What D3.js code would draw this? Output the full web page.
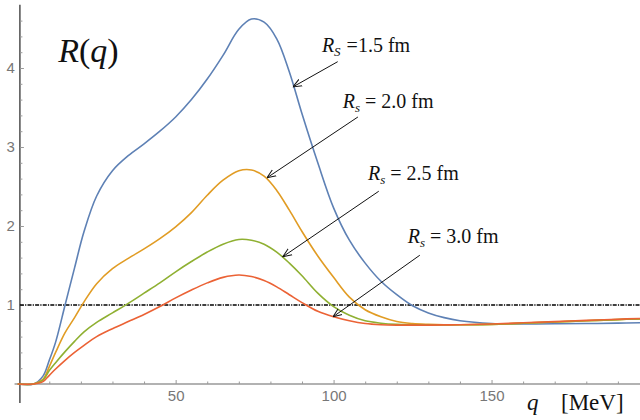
<!DOCTYPE html>
<html>
<head>
<meta charset="utf-8">
<script src="https://cdn.jsdelivr.net/npm/d3@7"></script>
<style>
  body { margin: 0; background: #fff; }
  svg { display: block; }
</style>
</head>
<body>
<div id="chart"></div>
<script>
// q grid (MeV) shared by all curves
var qGrid = [0, 5, 8, 10, 12, 15, 18, 21, 25, 30, 35, 40, 45, 50, 55, 60, 65, 70, 74, 78,
             82, 86, 90, 95, 100, 105, 110, 115, 120, 125, 130, 135, 140, 150, 160, 170, 180, 190, 197];

// R(q) for each source radius
var r15 = [0, 0, 0.1, 0.3, 0.53, 1.0, 1.47, 1.93, 2.38, 2.7, 2.89, 3.04, 3.2, 3.38, 3.6, 3.86, 4.16, 4.49, 4.62, 4.58,
           4.37, 3.95, 3.42, 2.8, 2.23, 1.82, 1.53, 1.3, 1.13, 0.99, 0.9, 0.84, 0.8, 0.765, 0.76, 0.762, 0.765, 0.77, 0.775];
var r20 = [0, 0, 0.06, 0.22, 0.4, 0.65, 0.84, 1.04, 1.27, 1.46, 1.59, 1.71, 1.84, 1.99, 2.17, 2.39, 2.58, 2.7, 2.71, 2.63,
           2.45, 2.2, 1.93, 1.62, 1.35, 1.1, 0.94, 0.85, 0.79, 0.765, 0.755, 0.75, 0.75, 0.755, 0.77, 0.785, 0.8, 0.815, 0.825];
var r25 = [0, 0, 0.05, 0.17, 0.27, 0.41, 0.54, 0.66, 0.78, 0.9, 1.02, 1.15, 1.28, 1.42, 1.55, 1.67, 1.77, 1.83, 1.82, 1.77,
           1.67, 1.53, 1.37, 1.15, 0.98, 0.87, 0.8, 0.77, 0.755, 0.75, 0.748, 0.748, 0.75, 0.755, 0.77, 0.785, 0.8, 0.815, 0.825];
var r30 = [0, 0, 0.03, 0.11, 0.19, 0.3, 0.4, 0.49, 0.6, 0.7, 0.79, 0.88, 0.98, 1.09, 1.19, 1.28, 1.35, 1.38, 1.36, 1.31,
           1.23, 1.13, 1.03, 0.92, 0.85, 0.8, 0.765, 0.75, 0.745, 0.745, 0.745, 0.748, 0.75, 0.76, 0.775, 0.79, 0.805, 0.82, 0.83];

var seriesNames = ["1.5", "2.0", "2.5", "3.0"];
var seriesSub = ["S", "s", "s", "s"];
var seriesValues = [r15, r20, r25, r30];
var colors = ["#5e81b5", "#e19c24", "#8fb032", "#eb6235"];

// annotation anchors in data units: label (q, R), arrow start, arrow end
var labelPos = [[96.3, 4.2], [102.9, 3.49], [110.9, 2.58], [123.5, 1.78]];
var arrowFrom = [[101.3, 4.08], [107.7, 3.38], [114.3, 2.44], [127.3, 1.63]];
var arrowTo = [[87.1, 3.76], [78.9, 2.61], [83.9, 1.61], [99.8, 0.85]];

var yMajor = [1, 2, 3, 4];
var xMajor = [50, 100, 150];

var width = 640, height = 420;

var x = d3.scaleLinear().domain([0, 197]).range([17.7, 640]);
var y = d3.scaleLinear().domain([0, 4.8]).range([384, 4.8]);
var axisQ = 0.7;

var svg = d3.select("#chart").append("svg")
  .attr("width", width)
  .attr("height", height);

var defs = svg.append("defs");
defs.append("marker")
  .attr("id", "arr")
  .attr("viewBox", "0 0 10 10")
  .attr("refX", 10).attr("refY", 5)
  .attr("markerWidth", 9).attr("markerHeight", 9)
  .attr("markerUnits", "userSpaceOnUse")
  .attr("orient", "auto")
  .append("path")
  .attr("d", "M0,1 L10,5 L0,9")
  .attr("fill", "none")
  .attr("stroke", "#111")
  .attr("stroke-width", 1.1);

// axes lines
svg.append("line")
  .attr("x1", x(-1)).attr("x2", width)
  .attr("y1", y(0)).attr("y2", y(0))
  .attr("stroke", "#999").attr("stroke-width", 1.3);
svg.append("line")
  .attr("x1", x(axisQ)).attr("x2", x(axisQ))
  .attr("y1", y(4.8)).attr("y2", y(-0.24))
  .attr("stroke", "#333").attr("stroke-width", 1.3);

// y axis ticks
var yAxis = svg.append("g")
  .attr("transform", "translate(" + x(axisQ) + ",0)")
  .call(d3.axisLeft(y).tickValues(yMajor).tickSize(-4).tickPadding(5).tickFormat(d3.format("d")));
svg.append("g")
  .attr("transform", "translate(" + x(axisQ) + ",0)")
  .call(d3.axisLeft(y).tickValues(d3.range(0.2, 4.8, 0.2).filter(function(v) { return Math.abs(v - Math.round(v)) > 0.01; }))
    .tickSize(-2.5).tickFormat(""))
  .call(function(g) { g.select(".domain").remove(); })
  .selectAll("line").attr("stroke", "#999");

// x axis ticks
var xAxis = svg.append("g")
  .attr("transform", "translate(0," + y(0) + ")")
  .call(d3.axisBottom(x).tickValues(xMajor).tickSize(-4).tickPadding(6));
svg.append("g")
  .attr("transform", "translate(0," + y(0) + ")")
  .call(d3.axisBottom(x).tickValues(d3.range(10, 197, 10).filter(function(v) { return v % 50 !== 0; }))
    .tickSize(-2.5).tickFormat(""))
  .call(function(g) { g.select(".domain").remove(); })
  .selectAll("line").attr("stroke", "#999");

[yAxis, xAxis].forEach(function(g) {
  g.select(".domain").remove();
  g.selectAll("line").attr("stroke", "#999");
  g.selectAll("text")
    .attr("fill", "#777")
    .style("font-family", "'Liberation Sans', Arial, sans-serif")
    .style("font-size", "15px");
});

// reference line R = 1
svg.append("line")
  .attr("x1", x(axisQ)).attr("x2", width)
  .attr("y1", y(1)).attr("y2", y(1))
  .attr("stroke", "#000")
  .attr("stroke-width", 1.3)
  .attr("stroke-dasharray", "4,1.2,1.2,1.2");

// curves
var line = d3.line()
  .x(function(d) { return x(d[0]); })
  .y(function(d) { return y(d[1]); })
  .curve(d3.curveCatmullRom.alpha(0.5));

seriesValues.forEach(function(vals, i) {
  svg.append("path")
    .datum(qGrid.map(function(q, k) { return [q, vals[k]]; }))
    .attr("d", line)
    .attr("fill", "none")
    .attr("stroke", colors[i])
    .attr("stroke-width", 1.6);
});

// arrows
arrowFrom.forEach(function(a, i) {
  svg.append("line")
    .attr("x1", x(a[0])).attr("y1", y(a[1]))
    .attr("x2", x(arrowTo[i][0])).attr("y2", y(arrowTo[i][1]))
    .attr("stroke", "#111")
    .attr("stroke-width", 1)
    .attr("marker-end", "url(#arr)");
});

// labels
var serif = "'Liberation Serif', 'Times New Roman', serif";
labelPos.forEach(function(p, i) {
  var t = svg.append("text")
    .attr("x", x(p[0])).attr("y", y(p[1]))
    .style("font-family", serif)
    .style("font-size", "20px")
    .attr("fill", "#111");
  t.append("tspan").style("font-style", "italic").text("R");
  t.append("tspan").style("font-style", "italic").style("font-size", "13px")
    .attr("dy", 4).text(seriesSub[i]);
  t.append("tspan").attr("dy", -4).attr("dx", i === 0 ? 6 : 5)
    .text(i === 0 ? "=" + seriesNames[i] + " fm" : "= " + seriesNames[i] + " fm");
});

// R(q) title
var title = svg.append("text")
  .attr("x", x(12.8)).attr("y", y(4.08))
  .style("font-family", serif)
  .style("font-size", "34px")
  .attr("fill", "#111");
title.append("tspan").style("font-style", "italic").text("R");
title.append("tspan").text("(");
title.append("tspan").style("font-style", "italic").text("q");
title.append("tspan").text(")");

// x axis label
svg.append("text")
  .attr("x", 527).attr("y", 410)
  .style("font-family", serif)
  .style("font-size", "23px")
  .style("font-style", "italic")
  .attr("fill", "#111")
  .text("q");
svg.append("text")
  .attr("x", 561).attr("y", 410)
  .style("font-family", serif)
  .style("font-size", "23px")
  .attr("fill", "#111")
  .text("[MeV]");
</script>
</body>
</html>
